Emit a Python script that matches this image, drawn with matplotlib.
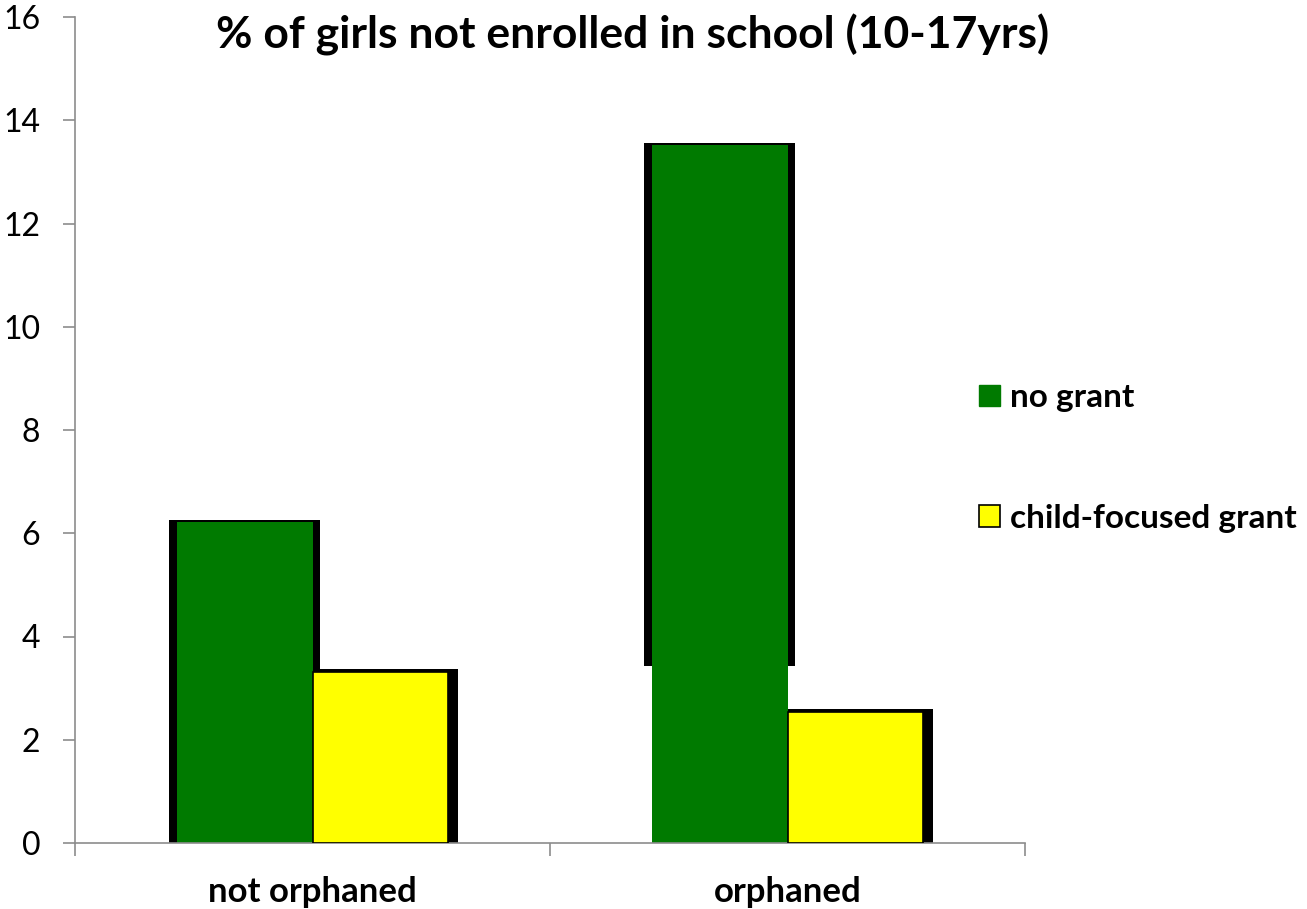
import matplotlib
matplotlib.use("Agg")
import matplotlib.pyplot as plt
import numpy as np
from matplotlib.patches import Patch

# data
categories = ["not orphaned", "orphaned"]
series_names = ["no grant", "child-focused grant"]
no_grant = [6.22, 13.52]
child_grant = [3.32, 2.53]
shadow_bottom_no_grant = [0.0, 3.43]   # rendering quirk: shadow stops above 0 on the orphaned bar

GREEN = "#007A00"
YELLOW = "#FFFF00"
GREY = "#8C8C8C"

plt.rcParams["font.family"] = ["Lato", "DejaVu Sans"]

fig = plt.figure(figsize=(13.07, 9.09), dpi=100)
ax = fig.add_axes([75 / 1307, 66 / 909, 950 / 1307, 826 / 909])

x = np.arange(len(categories))
w = 0.2857
px = 1.0 / 475  # one pixel in category units

# black "shadow" boxes behind the bars
for xi, v, b in zip(x, no_grant, shadow_bottom_no_grant):
    ax.bar(xi - w - 8 * px, v + 0.04 - b, width=w + 15 * px, bottom=b, align="edge",
           color="black", zorder=1)
for xi, v in zip(x, child_grant):
    ax.bar(xi, v + 0.06, width=w + 10 * px, align="edge", color="black", zorder=1)

ax.bar(x - w / 2, no_grant, width=w, color=GREEN, zorder=2)
ax.bar(x + w / 2, child_grant, width=w, color=YELLOW, edgecolor="black", linewidth=1.2, zorder=3)

ax.set_xlim(-0.5, 1.5)
ax.set_ylim(0, 16)
ax.set_yticks(np.arange(0, 17, 2))
ax.tick_params(axis="y", direction="out", length=9, width=1.2, color=GREY, labelsize=23, pad=16)

ax.set_xticks([-0.5, 0.5, 1.5])
ax.set_xticklabels([])
ax.tick_params(axis="x", which="major", direction="out", length=9, width=1.2, color=GREY)
ax.set_xticks(x, minor=True)
ax.set_xticklabels(categories, minor=True, fontsize=25, fontweight="bold")
ax.tick_params(axis="x", which="minor", length=0, pad=24)

for s in ["top", "right"]:
    ax.spines[s].set_visible(False)
for s in ["left", "bottom"]:
    ax.spines[s].set_color(GREY)
    ax.spines[s].set_linewidth(1.2)

handles = [Patch(facecolor=GREEN, edgecolor=GREEN),
           Patch(facecolor=YELLOW, edgecolor="black", linewidth=1.2)]
fig.legend(handles, series_names, loc="upper left", bbox_to_anchor=(966 / 1307, 1 - 370 / 909),
           frameon=False, handlelength=0.62, handleheight=0.62, handletextpad=0.3,
           labelspacing=2.75, borderaxespad=0,
           prop={"size": 24, "weight": "bold"})

fig.text(633 / 1307, 1 - 35 / 909, "% of girls not enrolled in school (10-17yrs)",
         ha="center", va="center", fontsize=32, fontweight="bold")

fig.savefig("out.png", dpi=100)
